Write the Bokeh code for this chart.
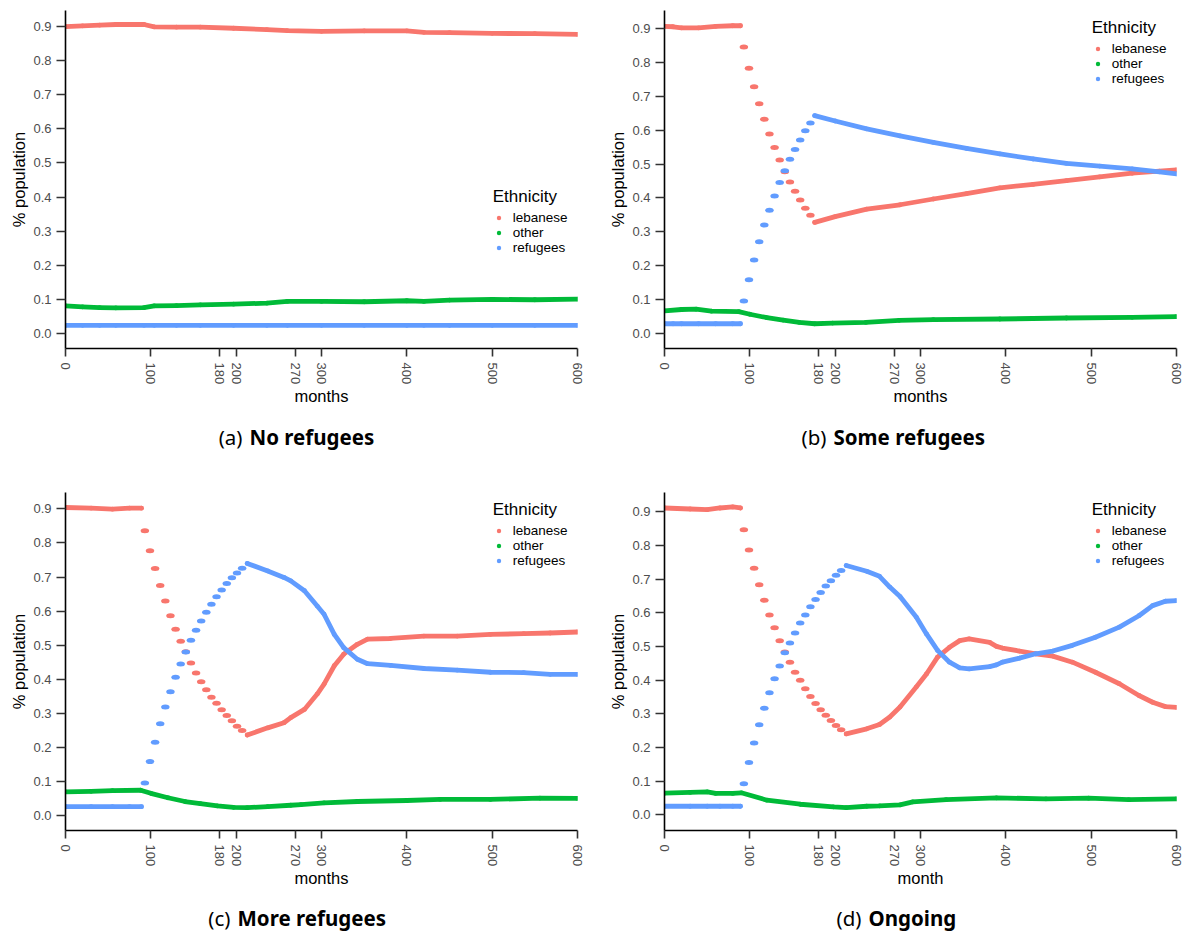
from bokeh.plotting import figure
from bokeh.layouts import row, column
from bokeh.models import Range1d, FixedTicker, PrintfTickFormatter, Legend, LegendItem
from bokeh.core.properties import value
from bokeh.embed import file_html
from bokeh.resources import INLINE

# ---------------- data ----------------
ETHNICITIES = ["lebanese", "other", "refugees"]
COLORS = {"lebanese": "#F8766D", "other": "#00BA38", "refugees": "#619CFF"}
X_TICKS = [0, 100, 180, 200, 270, 300, 400, 500, 600]
Y_TICKS = [0.0, 0.1, 0.2, 0.3, 0.4, 0.5, 0.6, 0.7, 0.8, 0.9]
CAPTION_TAGS = ["(a)", "(b)", "(c)", "(d)"]
CAPTION_TITLES = ["No refugees", "Some refugees", "More refugees", "Ongoing"]
X_LABELS = ["months", "months", "months", "month"]

# (a) No refugees
a_months = [0, 20, 40, 59, 92, 104, 130, 158, 197, 236, 260, 300, 350, 400, 420, 450, 500, 550, 600]
a_lebanese = [0.900, 0.902, 0.904, 0.906, 0.906, 0.899, 0.898, 0.898, 0.895, 0.891, 0.888, 0.886,
              0.887, 0.887, 0.883, 0.882, 0.880, 0.879, 0.877]
a_other = [0.081, 0.078, 0.076, 0.075, 0.076, 0.081, 0.082, 0.084, 0.086, 0.089, 0.094, 0.094,
           0.093, 0.096, 0.094, 0.098, 0.100, 0.099, 0.101]
a_refugees = [0.024, 0.024, 0.024, 0.024, 0.024, 0.024, 0.024, 0.024, 0.024, 0.024, 0.024, 0.024,
              0.024, 0.024, 0.024, 0.024, 0.024, 0.024, 0.024]

# (b) Some refugees
b_pre_months = [0, 10, 20, 40, 60, 80, 89]
b_pre_lebanese = [0.906, 0.905, 0.902, 0.902, 0.906, 0.908, 0.908]
b_pre_refugees = [0.029, 0.029, 0.029, 0.029, 0.029, 0.029, 0.029]
b_step_months = [93, 99, 105, 111, 117, 123, 129, 135, 141, 147, 153, 159, 165, 171]
b_step_lebanese = [0.845, 0.783, 0.728, 0.678, 0.632, 0.589, 0.549, 0.512, 0.477, 0.447, 0.420, 0.394, 0.370, 0.349]
b_step_refugees = [0.096, 0.159, 0.217, 0.271, 0.320, 0.364, 0.406, 0.446, 0.480, 0.514, 0.543, 0.571, 0.598, 0.621]
b_post_months = [176, 200, 237, 276, 315, 354, 393, 432, 471, 510, 548, 580, 600]
b_post_lebanese = [0.328, 0.345, 0.367, 0.380, 0.397, 0.413, 0.430, 0.440, 0.451, 0.462, 0.473, 0.479, 0.483]
b_post_refugees = [0.643, 0.627, 0.604, 0.583, 0.564, 0.546, 0.530, 0.515, 0.502, 0.494, 0.486, 0.477, 0.471]
b_other_months = [0, 20, 37, 55, 87, 100, 120, 139, 158, 176, 197, 236, 275, 315, 393, 471, 548, 600]
b_other = [0.067, 0.071, 0.072, 0.066, 0.065, 0.057, 0.047, 0.040, 0.033, 0.029, 0.031, 0.033,
           0.039, 0.041, 0.043, 0.046, 0.048, 0.050]

# (c) More refugees
c_pre_months = [0, 30, 55, 75, 89]
c_pre_lebanese = [0.904, 0.902, 0.899, 0.902, 0.902]
c_pre_refugees = [0.027, 0.027, 0.027, 0.027, 0.027]
c_step_months = [93, 99, 105, 111, 117, 123, 129, 135, 141, 147, 153, 159, 165, 171, 177, 183, 189, 195, 201, 207]
c_step_lebanese = [0.836, 0.777, 0.725, 0.675, 0.630, 0.587, 0.547, 0.512, 0.481, 0.448, 0.419, 0.393,
                   0.370, 0.348, 0.330, 0.311, 0.294, 0.279, 0.263, 0.250]
c_step_refugees = [0.096, 0.159, 0.216, 0.270, 0.319, 0.364, 0.406, 0.445, 0.480, 0.515, 0.544, 0.571,
                   0.597, 0.620, 0.642, 0.662, 0.681, 0.698, 0.712, 0.726]
c_post_months = [213, 237, 256, 264, 280, 295, 303, 315, 326, 342, 354, 381, 420, 459, 498, 537, 568, 600]
c_post_lebanese = [0.237, 0.258, 0.273, 0.288, 0.312, 0.357, 0.386, 0.440, 0.474, 0.503, 0.518, 0.520,
                   0.527, 0.527, 0.532, 0.534, 0.536, 0.539]
c_post_refugees = [0.740, 0.718, 0.699, 0.689, 0.660, 0.615, 0.591, 0.532, 0.493, 0.459, 0.446, 0.441,
                   0.432, 0.427, 0.421, 0.420, 0.415, 0.415]
c_other_months = [0, 30, 55, 88, 100, 120, 140, 158, 178, 197, 213, 237, 264, 276, 303, 342, 400, 439, 498, 556, 600]
c_other = [0.070, 0.072, 0.074, 0.075, 0.066, 0.053, 0.042, 0.036, 0.029, 0.025, 0.024, 0.027,
           0.031, 0.033, 0.038, 0.042, 0.045, 0.048, 0.048, 0.052, 0.051]

# (d) Ongoing
d_pre_months = [0, 30, 50, 65, 80, 89]
d_pre_lebanese = [0.911, 0.908, 0.906, 0.911, 0.914, 0.911]
d_pre_refugees = [0.025, 0.025, 0.025, 0.025, 0.025, 0.025]
d_step_months = [93, 99, 105, 111, 117, 123, 129, 135, 141, 147, 153, 159, 165, 171, 177, 183, 189, 195, 201, 207]
d_step_lebanese = [0.846, 0.786, 0.732, 0.683, 0.637, 0.593, 0.555, 0.517, 0.483, 0.453, 0.423, 0.399,
                   0.374, 0.351, 0.330, 0.312, 0.295, 0.280, 0.265, 0.252]
d_step_refugees = [0.092, 0.155, 0.213, 0.267, 0.316, 0.362, 0.404, 0.442, 0.481, 0.510, 0.540, 0.569,
                   0.593, 0.618, 0.639, 0.660, 0.679, 0.695, 0.711, 0.725]
d_post_months = [213, 237, 252, 264, 276, 295, 307, 320, 334, 346, 357, 381, 389, 396, 416, 435, 455,
                 478, 505, 533, 556, 572, 587, 600]
d_post_lebanese = [0.240, 0.255, 0.268, 0.290, 0.320, 0.379, 0.418, 0.468, 0.497, 0.517, 0.522, 0.512,
                   0.500, 0.495, 0.486, 0.478, 0.471, 0.453, 0.423, 0.389, 0.354, 0.334, 0.321, 0.319]
d_post_refugees = [0.740, 0.723, 0.708, 0.676, 0.648, 0.587, 0.537, 0.488, 0.453, 0.436, 0.433, 0.440,
                   0.445, 0.453, 0.465, 0.478, 0.486, 0.503, 0.527, 0.557, 0.591, 0.621, 0.634, 0.636]
d_other_months = [0, 30, 50, 60, 80, 90, 120, 159, 198, 213, 237, 252, 276, 291, 330, 389, 447, 497, 544, 600]
d_other = [0.064, 0.066, 0.068, 0.063, 0.063, 0.065, 0.043, 0.031, 0.023, 0.021, 0.025, 0.026,
           0.029, 0.038, 0.045, 0.050, 0.047, 0.049, 0.045, 0.047]

PANELS = [
    dict(segments={"lebanese": [(a_months, a_lebanese)],
                   "other": [(a_months, a_other)],
                   "refugees": [(a_months, a_refugees)]},
         steps={}),
    dict(segments={"lebanese": [(b_pre_months, b_pre_lebanese), (b_post_months, b_post_lebanese)],
                   "other": [(b_other_months, b_other)],
                   "refugees": [(b_pre_months, b_pre_refugees), (b_post_months, b_post_refugees)]},
         steps={"lebanese": (b_step_months, b_step_lebanese),
                "refugees": (b_step_months, b_step_refugees)}),
    dict(segments={"lebanese": [(c_pre_months, c_pre_lebanese), (c_post_months, c_post_lebanese)],
                   "other": [(c_other_months, c_other)],
                   "refugees": [(c_pre_months, c_pre_refugees), (c_post_months, c_post_refugees)]},
         steps={"lebanese": (c_step_months, c_step_lebanese),
                "refugees": (c_step_months, c_step_refugees)}),
    dict(segments={"lebanese": [(d_pre_months, d_pre_lebanese), (d_post_months, d_post_lebanese)],
                   "other": [(d_other_months, d_other)],
                   "refugees": [(d_pre_months, d_pre_refugees), (d_post_months, d_post_refugees)]},
         steps={"lebanese": (d_step_months, d_step_lebanese),
                "refugees": (d_step_months, d_step_refugees)}),
]

# ---------------- layout / style ----------------
AXIS_FONT = "Liberation Sans"
CAP_FONT = "Noto Sans"
FRAME_W = 512
FRAME_H = 338
Y_RANGES = [(-0.044, 0.947), (-0.044, 0.953), (-0.043, 0.948), (-0.047, 0.957)]
FIG_W = [599, 589, 599, 589]
BORDER_TOP = [10, 10, 2, 2]
LEGEND_VY = [92.7, 262.5, 262.5, 262.5]


def make_panel(i):
    w = FIG_W[i]
    h = BORDER_TOP[i] + FRAME_H + 62
    p = figure(width=w, height=h, x_range=Range1d(0, 600), y_range=Range1d(*Y_RANGES[i]),
               output_backend="svg", toolbar_location=None,
               min_border_left=65, min_border_right=w - 65 - FRAME_W,
               min_border_top=BORDER_TOP[i], min_border_bottom=62)
    p.outline_line_color = None
    p.grid.visible = False

    spec = PANELS[i]
    legend_r = {}
    for eth in ETHNICITIES:
        col = COLORS[eth]
        for months, vals in spec["segments"][eth]:
            p.line(months, vals, line_color=col, line_width=4.8, line_cap="round", line_join="round")
            r = p.scatter(months, vals, size=4.8, marker="circle", fill_color=col, line_color=None)
            legend_r.setdefault(eth, r)
        if eth in spec["steps"]:
            months, vals = spec["steps"][eth]
            p.ellipse(x=months, y=vals, width=8.5, height=5, width_units="screen",
                      height_units="screen", fill_color=col, line_color=None)

    xa = p.xaxis[0]
    xa.ticker = FixedTicker(ticks=X_TICKS)
    xa.major_label_orientation = "vertical"
    xa.major_tick_out = 8
    xa.major_tick_in = 0
    xa.minor_tick_out = 0
    xa.major_label_standoff = 6
    xa.axis_label = X_LABELS[i]
    xa.axis_label_standoff = 0

    ya = p.yaxis[0]
    ya.ticker = FixedTicker(ticks=Y_TICKS)
    ya.formatter = PrintfTickFormatter(format="%.1f")
    ya.major_tick_out = 9
    ya.major_tick_in = 0
    ya.minor_tick_out = 0
    ya.major_label_standoff = 5
    ya.axis_label = "% population"
    ya.axis_label_standoff = 2

    for ax in (xa, ya):
        ax.axis_line_color = "black"
        ax.axis_line_width = 1.6
        ax.major_tick_line_color = "#333333"
        ax.major_tick_line_width = 1.6
        ax.major_label_text_font = AXIS_FONT
        ax.major_label_text_font_size = "13px"
        ax.major_label_text_color = "#4D4D4D"
        ax.axis_label_text_font = AXIS_FONT
        ax.axis_label_text_font_size = "16.5px"
        ax.axis_label_text_font_style = "normal"
        ax.axis_label_text_color = "black"

    items = [LegendItem(label=eth, renderers=[legend_r[eth]]) for eth in ETHNICITIES]
    leg = Legend(items=items, location=(427.7, LEGEND_VY[i]), title="Ethnicity",
                 title_text_font=AXIS_FONT, title_text_font_size="17px",
                 title_text_font_style="normal", title_text_color="black", title_standoff=3,
                 label_text_font=AXIS_FONT, label_text_font_size="13.5px", label_text_color="black",
                 glyph_width=11, glyph_height=13, label_height=13, label_standoff=9,
                 padding=0, spacing=0, margin=0,
                 border_line_alpha=0, background_fill_alpha=0)
    p.add_layout(leg)
    return p


CAP_H = [80, 80, 44, 44]
CAP_BASE = [53.5, 53.5, 19, 19]
CAP_SPLIT = [249, 234, 237, 269]


def make_caption(i):
    w = FIG_W[i]
    h = CAP_H[i]
    c = figure(width=w, height=h, x_range=Range1d(0, w), y_range=Range1d(0, h),
               output_backend="svg", toolbar_location=None, min_border=0,
               x_axis_location=None, y_axis_location=None)
    c.outline_line_color = None
    c.grid.visible = False
    c.text(x=[CAP_SPLIT[i] - 7], y=[CAP_BASE[i]], text=[CAPTION_TAGS[i]],
           text_font=value(CAP_FONT), text_font_size="20.5px", text_align="right",
           text_baseline="alphabetic", text_color="black")
    c.text(x=[CAP_SPLIT[i]], y=[CAP_BASE[i]], text=[CAPTION_TITLES[i]],
           text_font=value(CAP_FONT), text_font_size="20.5px", text_font_style="bold",
           text_align="left", text_baseline="alphabetic", text_color="black")
    return c


panels = [make_panel(i) for i in range(4)]
caps = [make_caption(i) for i in range(4)]

layout = column(row(panels[0], panels[1]), row(caps[0], caps[1]),
                row(panels[2], panels[3]), row(caps[2], caps[3]))

open("out.html", "w").write(file_html(layout, INLINE))
